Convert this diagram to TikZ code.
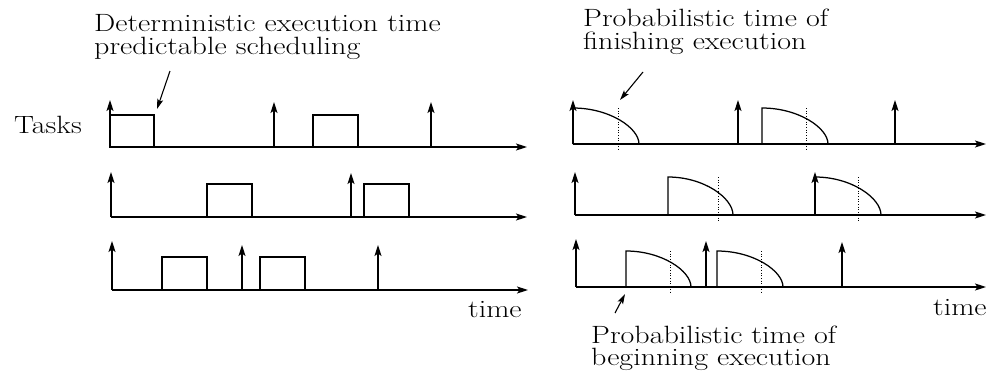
\documentclass[tikz,border=0pt]{standalone}
\usetikzlibrary{arrows.meta}
\usepackage{graphicx}
\newcommand\widetext[1]{\scalebox{1.2}[1]{\begin{tabular}[t]{@{}l@{}}#1\end{tabular}}}
\begin{document}
\begin{tikzpicture}[x=1pt,y=-1pt,
  line/.style={line width=1.25pt},
  axis/.style={line width=1.25pt,-{Stealth[length=11pt,width=7pt,inset=2.5pt]}},
  rel/.style={line width=1.25pt,-{Stealth[length=11pt,width=7pt,inset=2.5pt]}},
  mark line/.style={line width=0.7pt,dotted},
  lbl/.style={inner sep=0pt,font=\fontsize{25}{16.8}\selectfont},
  note/.style={line width=1.1pt,-{Stealth[length=10pt,width=6pt,inset=2pt]}}]
\useasboundingbox (0,0) rectangle (987,372);
\newcommand\pcurve[4]{% x0, top, axis, w
  \draw[line] (#1,#3) -- (#1,#2) .. controls ({#1+0.5523*#4},#2) and ({#1+#4},{#3-0.4477*(#3-#2)}) .. ({#1+#4},#3);}
% ---------- left panel ----------
\node[lbl,anchor=base west] (tasks) at (14,133) {\widetext{Tasks}};
\node[lbl,anchor=base west] (det) at (94,31.7) {\widetext{Deterministic execution time\\predictable scheduling}};
% row 1
\draw[axis] (110,147) -- (527,147);
\draw[line] (110,147) rectangle (154,115);
\draw[line] (313,147) rectangle (358,115);
\draw[rel] (110,147) -- (110,100);
\draw[rel] (274,147) -- (274,102);
\draw[rel] (431,147) -- (431,102);
% row 2
\draw[axis] (111,217) -- (527,217);
\draw[line] (207,217) rectangle (252,184);
\draw[line] (364,217) rectangle (409,184);
\draw[rel] (111,217) -- (111,172);
\draw[rel] (351,217) -- (351,173);
% row 3
\draw[axis] (112,290) -- (528,290);
\draw[line] (162,290) rectangle (207,257);
\draw[line] (260,290) rectangle (305,257);
\draw[rel] (112,290) -- (112,241);
\draw[rel] (242,290) -- (242,245);
\draw[rel] (378,290) -- (378,245);
\node[lbl,anchor=base west] (timeL) at (468,317) {\widetext{time}};
\coordinate (detTip) at (157,109);
\draw[note] (170,71) -- (detTip);
% ---------- right panel ----------
\node[lbl,anchor=base west] (fin) at (583,27) {\widetext{Probabilistic time of\\finishing execution}};
\node[lbl,anchor=base west] (beg) at (591,343.3) {\widetext{Probabilistic time of\\beginning execution}};
% row 1
\draw[axis] (573,144) -- (986,144);
\pcurve{573}{108}{144}{66}
\pcurve{762}{108}{144}{66}
\draw[mark line] (618,108) -- (618,150);
\draw[mark line] (806,108) -- (806,150);
\draw[rel] (573,144) -- (573,100);
\draw[rel] (738,144) -- (738,100);
\draw[rel] (895,144) -- (895,100);
% row 2
\draw[axis] (575,215) -- (986,215);
\pcurve{668}{177}{215}{65}
\pcurve{815}{177}{215}{66}
\draw[mark line] (718,177) -- (718,221);
\draw[mark line] (858,177) -- (858,221);
\draw[rel] (575,215) -- (575,172);
\draw[rel] (815,215) -- (815,172);
% row 3
\draw[axis] (576,287) -- (986,287);
\pcurve{626}{251}{287}{65}
\pcurve{717}{251}{287}{66}
\draw[mark line] (670,251) -- (670,293);
\draw[mark line] (761,251) -- (761,293);
\draw[rel] (576,287) -- (576,239);
\draw[rel] (706,287) -- (706,241);
\draw[rel] (842,287) -- (842,242);
\node[lbl,anchor=base west] (timeR) at (933,315) {\widetext{time}};
\coordinate (finTip) at (620,100);
\coordinate (begTip) at (625,294);
\draw[note] (643,72) -- (finTip);
\draw[note] (615,313) -- (begTip);
\end{tikzpicture}
\end{document}
